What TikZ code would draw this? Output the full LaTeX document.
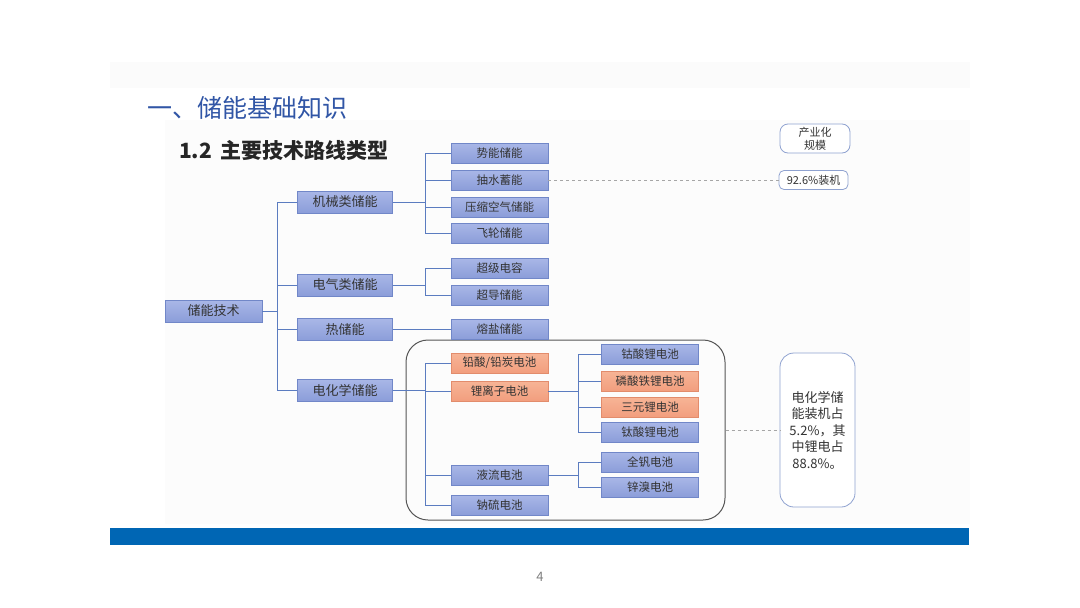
\documentclass[tikz,border=0pt]{standalone}
\usepackage{fontspec}
\setmainfont{Noto Sans CJK SC}
\definecolor{titleblue}{HTML}{3156A6}
\definecolor{bluetop}{HTML}{A9B7E7}
\definecolor{bluebot}{HTML}{8B9DD9}
\definecolor{blueline}{HTML}{7187C8}
\definecolor{orangetop}{HTML}{F7B496}
\definecolor{orangebot}{HTML}{F29E7E}
\definecolor{orangeline}{HTML}{E28C6C}
\definecolor{conncol}{HTML}{5B7CC0}
\definecolor{textc}{HTML}{333333}
\definecolor{barblue}{HTML}{0066B4}
\definecolor{infoline}{HTML}{8FA2D0}
\definecolor{groupline}{HTML}{555555}
\tikzset{
  bbox/.style={draw=blueline, top color=bluetop, bottom color=bluebot, minimum width=97pt, minimum height=20pt, inner sep=0pt, text=textc, font=\fontsize{11.5}{13}\selectfont},
  obox/.style={bbox, draw=orangeline, top color=orangetop, bottom color=orangebot},
  catbox/.style={bbox, minimum width=95pt, minimum height=22pt, font=\fontsize{13}{15}\selectfont},
  conn/.style={draw=conncol, line width=1pt},
  dashconn/.style={draw=gray!70, dashed, line width=0.6pt},
  infobox/.style={draw=infoline, fill=white, rounded corners=8pt, line width=0.8pt, inner sep=0pt, text=textc, align=center}
}
\begin{document}
\begin{tikzpicture}[x=1pt,y=-1pt]
\useasboundingbox (0,0) rectangle (1080,608);
\fill[white] (0,0) rectangle (1080,608);
% subtle backgrounds
\fill[black!1.5] (110,62) rectangle (970,88);
\fill[black!1] (165,120) rectangle (970,524);
% titles
\node[anchor=west, text=titleblue, font=\fontsize{25}{29}\selectfont, inner sep=0pt] (title) at (147,108) {一、储能基础知识};
\node[anchor=west, text=black!85, font=\fontsize{21}{24}\selectfont\bfseries, inner sep=0pt] (subtitle) at (179,150) {1.2\hspace{8pt}主要技术路线类型};
% group box
\node[draw=groupline, line width=1pt, rounded corners=22pt, minimum width=319pt, minimum height=180pt, inner sep=0pt] (group) at (565.5,430) {};
% root and categories
\node[catbox, minimum width=97pt] (root) at (213.5,311) {储能技术};
\node[catbox] (mech) at (345,202) {机械类储能};
\node[catbox] (elec) at (345,285) {电气类储能};
\node[catbox] (heat) at (345,329.5) {热储能};
\node[catbox] (chem) at (345,390) {电化学储能};
% level 3
\node[bbox] (shi) at (499.5,153) {势能储能};
\node[bbox] (chou) at (499.5,180) {抽水蓄能};
\node[bbox] (ya) at (499.5,207) {压缩空气储能};
\node[bbox] (fei) at (499.5,233) {飞轮储能};
\node[bbox] (chao1) at (499.5,268) {超级电容};
\node[bbox] (chao2) at (499.5,295) {超导储能};
\node[bbox] (rong) at (499.5,329.5) {熔盐储能};
\node[obox] (qian) at (499.5,363) {铅酸/铅炭电池};
\node[obox] (li) at (499.5,391) {锂离子电池};
\node[bbox] (ye) at (499.5,475) {液流电池};
\node[bbox] (na) at (499.5,505) {钠硫电池};
% level 4
\node[bbox] (gu) at (650,354) {钴酸锂电池};
\node[obox] (lin) at (650,381) {磷酸铁锂电池};
\node[obox] (san) at (650,407) {三元锂电池};
\node[bbox] (tai) at (650,432) {钛酸锂电池};
\node[bbox] (quan) at (650,462) {全钒电池};
\node[bbox] (xin) at (650,487) {锌溴电池};
% info boxes
\node[infobox, minimum width=70pt, minimum height=29pt, font=\fontsize{11}{13}\selectfont] (scale) at (815,138.5) {产业化\\规模};
\node[infobox, rounded corners=5pt, minimum width=69pt, minimum height=19pt, font=\fontsize{11}{12}\selectfont] (pct) at (813.5,180) {92.6\%装机};
\node[infobox, rounded corners=14pt, minimum width=75pt, minimum height=154pt, font=\fontsize{13}{16.5}\selectfont] (info) at (817.5,430) {电化学储\\能装机占\\5.2\%，其\\中锂电占\\88.8\%。};
% junction coordinates
\coordinate (j0) at (277,0);
\coordinate (j1) at (425,0);
\coordinate (j2) at (578,0);
% root connectors
\draw[conn] (root.east) -- (root.east -| j0);
\draw[conn] (mech.west) -- (mech.west -| j0) -- (chem.west -| j0) -- (chem.west);
\draw[conn] (elec.west) -- (elec.west -| j0);
\draw[conn] (heat.west) -- (heat.west -| j0);
% mechanical
\draw[conn] (mech.east) -- (mech.east -| j1);
\draw[conn] (shi.west) -- (shi.west -| j1) -- (fei.west -| j1) -- (fei.west);
\draw[conn] (chou.west) -- (chou.west -| j1);
\draw[conn] (ya.west) -- (ya.west -| j1);
% electrical
\draw[conn] (elec.east) -- (elec.east -| j1);
\draw[conn] (chao1.west) -- (chao1.west -| j1) -- (chao2.west -| j1) -- (chao2.west);
% thermal
\draw[conn] (heat.east) -- (rong.west);
% electrochemical
\draw[conn] (chem.east) -- (chem.east -| j1);
\draw[conn] (qian.west) -- (qian.west -| j1) -- (na.west -| j1) -- (na.west);
\draw[conn] (li.west) -- (li.west -| j1);
\draw[conn] (ye.west) -- (ye.west -| j1);
% lithium
\draw[conn] (li.east) -- (li.east -| j2);
\draw[conn] (gu.west) -- (gu.west -| j2) -- (tai.west -| j2) -- (tai.west);
\draw[conn] (lin.west) -- (lin.west -| j2);
\draw[conn] (san.west) -- (san.west -| j2);
% flow
\draw[conn] (ye.east) -- (ye.east -| j2);
\draw[conn] (quan.west) -- (quan.west -| j2) -- (xin.west -| j2) -- (xin.west);
% dashed
\draw[dashconn] (chou.east) -- (pct.west);
\draw[dashconn] (group.east) -- (info.west);
% bottom bar and page number
\fill[barblue] (110,528) rectangle (969,545);
\node[text=black!50, font=\fontsize{13}{15}\selectfont, inner sep=0pt] (page) at (540,577) {4};
\end{tikzpicture}
\end{document}
